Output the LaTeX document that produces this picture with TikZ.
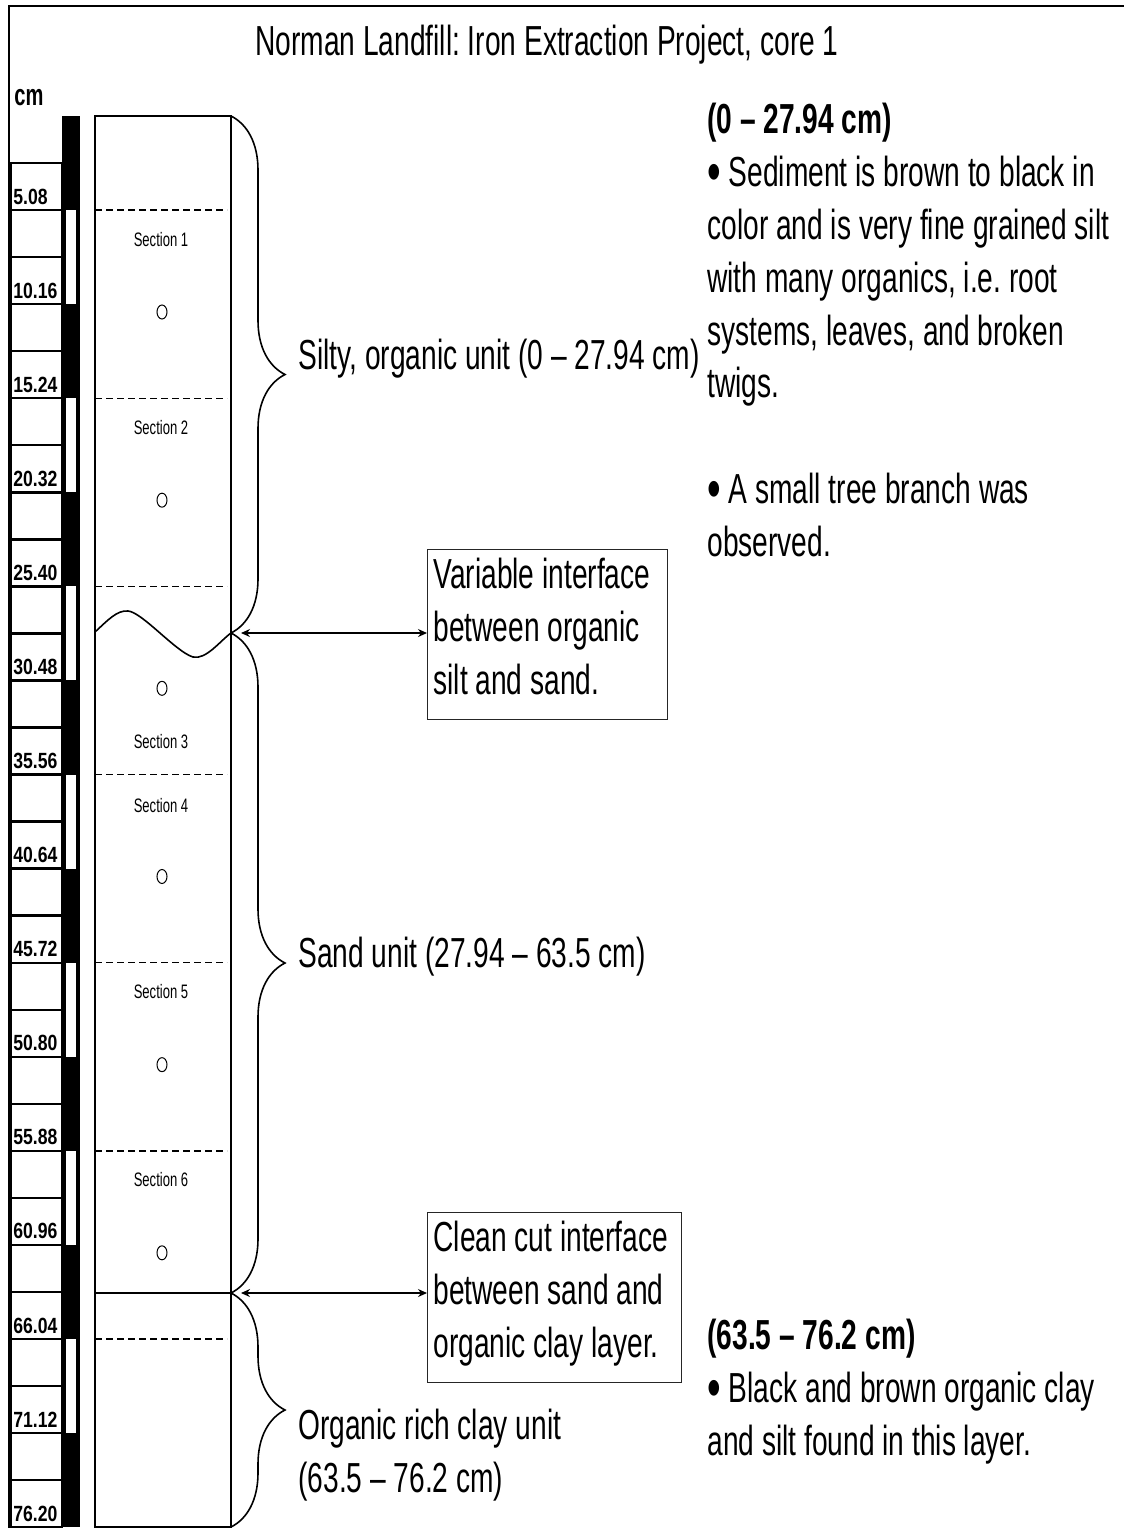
\documentclass[tikz,border=0pt]{standalone}
\usepackage{fontspec}
\setmainfont{Liberation Sans}[FakeStretch=0.67]
\newfontfamily\rulerfont{Liberation Sans}[FakeStretch=0.8]
\usetikzlibrary{arrows.meta,decorations.pathreplacing,positioning}
\frenchspacing
\newcommand{\bigbullet}{\raisebox{-2.5pt}{\fontsize{29}{26.4}\selectfont•}}

\tikzset{
  bigtext/.style={font=\fontsize{21}{26.4}\selectfont, inner sep=0pt},
  scalelab/.style={font=\rulerfont\bfseries\fontsize{11}{13}\selectfont, inner sep=0pt},
  secttext/.style={font=\fontsize{9.75}{11}\selectfont, inner sep=0pt},
  scalebox/.style={line width=1.2pt},
  coreline/.style={line width=0.6pt},
  sectline/.style={line width=0.7pt, dash pattern=on 3.5pt off 2pt},
  sample/.style={line width=0.5pt},
  unitbrace/.style={decorate, decoration={brace, amplitude=27pt}, line width=0.8pt},
  notebox/.style={bigtext, draw=black!85, line width=0.5pt, align=flush left, inner xsep=3pt, inner ysep=4.5pt},
  dblarrow/.style={{Stealth[length=4.5pt,width=4pt]}-{Stealth[length=4.5pt,width=4pt]}, line width=0.6pt, shorten <=5pt}
}

\begin{document}
\begin{tikzpicture}[x=0.5pt, y=-0.5pt, every node/.style={inner sep=0pt}]
    \useasboundingbox (0,0) rectangle (1124,1528);
    \draw[line width=1.1pt] (9,1528) -- (9,6) -- (1124,6);
    \node[bigtext, anchor=base] (title) at (547,55) {Norman Landfill: Iron Extraction Project, core 1};
    \node[font=\fontsize{15}{17}\selectfont\bfseries, anchor=base west] (cmlab) at (14,105) {cm};

    % depth scale
    \fill (62,116) rectangle (80,1527);
    \foreach \j in {1,3,...,13}
        \fill[white] (66,{116+94.08*\j}) rectangle (76,{116+94.08*(\j+1)});
    \foreach \lab [count=\j] in {5.08,10.16,15.24,20.32,25.40,30.48,35.56,40.64,45.72,50.80,55.88,60.96,66.04,71.12,76.20} {
        \pgfmathsetmacro{\ty}{116+94.08*\j}
        \draw[scalebox] (11,\ty-47.04) rectangle (62,\ty);
        \ifnum\j<15 \draw[scalebox] (11,\ty) rectangle (62,\ty+47.04); \fi
        \node[scalelab, anchor=base west] (d\j) at (13,\ty-6) {\lab};
    }

    % core
    \coordinate (coretop) at (231,116);
    \coordinate (corebot) at (231,1527);
    \coordinate (iface1) at (231,633);
    \coordinate (iface2) at (231,1293);
    \draw[coreline] (95,116) rectangle (corebot);
    \foreach \m in {0,...,6}
        \draw[sectline] (95,{116+94.08*(2*\m+1)}) -- (227,{116+94.08*(2*\m+1)});
    \foreach \s/\sy in {1/240,2/428,3/742,4/806,5/992,6/1180}
        \node[secttext] (sec\s) at (161,\sy) {Section \s};
    \foreach \m in {0,...,5}
        \draw[sample] (162,{312+188.16*\m}) ellipse (5 and 7);
    \draw[line width=0.8pt] (95,632) .. controls (108,620) and (117,610) .. (128,611)
        .. controls (142,612) and (176,652) .. (193,657) .. controls (206,660) and (220,641) .. (iface1);
    \draw[line width=1pt] (95,1293) -- (iface2);

    % units
    \draw[unitbrace] (coretop) -- (iface1);
    \draw[unitbrace] (iface1) -- (iface2);
    \draw[unitbrace] (iface2) -- (corebot);
    \node[bigtext, anchor=base west] (silty) at (298,369) {Silty, organic unit (0 – 27.94 cm)};
    \node[bigtext, anchor=base west] (sand) at (298,967) {Sand unit (27.94 – 63.5 cm)};
    \node[bigtext, anchor=north west, align=left] (clay) at (298,1409) {Organic rich clay unit\\(63.5 – 76.2 cm)};

    % interfaces
    \node[notebox, anchor=north west, text width=114pt] (varbox) at (427,549) {Variable interface\\between organic\\silt and sand.\strut};
    \node[notebox, anchor=north west, text width=121pt] (cutbox) at (427,1212) {Clean cut interface\\between sand and\\organic clay layer.\strut};
    \draw[dblarrow] (iface1) -- (iface1 -| varbox.west);
    \draw[dblarrow] (iface2) -- (iface2 -| cutbox.west);

    % descriptions
    \node[bigtext, anchor=north west, align=left] (topdesc) at (707,103) {\textbf{(0 – 27.94 cm)}\\\bigbullet\ Sediment is brown to black in\\color and is very fine grained silt\\with many organics, i.e. root\\systems, leaves, and broken\\twigs.\\[26.4pt]\bigbullet\ A small tree branch was\\observed.};
    \node[bigtext, anchor=north west, align=left] (botdesc) at (707,1319) {\textbf{(63.5 – 76.2 cm)}\\\bigbullet\ Black and brown organic clay\\and silt found in this layer.};
\end{tikzpicture}
\end{document}
